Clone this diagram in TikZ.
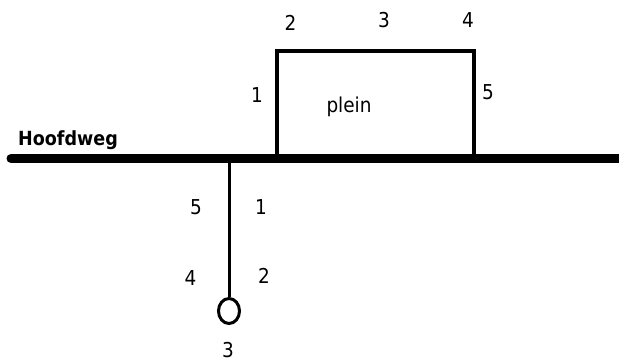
\documentclass[tikz,border=0pt]{standalone}
\usepackage{fontspec}
\setmainfont{DejaVu Sans Condensed}
\usetikzlibrary{shapes.geometric}
\begin{document}
\begin{tikzpicture}[x=1pt,y=-1pt,
  lbl/.style={inner sep=0pt,font=\fontsize{20.5}{23}\selectfont},
  road/.style={line width=9pt,line cap=round},
  side/.style={line width=3pt},
  square/.style={line width=4pt}]
\useasboundingbox (0,0) rectangle (619,361);
% main road
\coordinate (rl) at (11,158.5);
\coordinate (rr) at (630,158.5);
% plein
\coordinate (p1) at (276.5,158.5);
\coordinate (p2) at (276.5,51);
\coordinate (p3) at (474,51);
\coordinate (p4) at (474,158.5);
\draw[square] (p1) -- (p2) -- (p3) -- (p4);
\draw[road] (rl) -- (rr);
% side road
\coordinate (sj) at (229,158.5);
\node[ellipse,draw,side,minimum width=21pt,minimum height=25pt,inner sep=0pt] (end) at (229,311) {};
\draw[side] (sj) -- (end.north);
% texts
\node[inner sep=0pt,font=\fontsize{19.5}{22}\selectfont\bfseries,anchor=base west] (hw) at (18,145) {Hoofdweg};
\node[lbl,anchor=base] (pl) at (349,113) {plein};
\node[lbl] (a2) at (290.5,23) {2};
\node[lbl] (a3) at (384,20) {3};
\node[lbl] (a4) at (468,20.5) {4};
\node[lbl] (a1) at (257,95) {1};
\node[lbl] (a5) at (488,92) {5};
\node[lbl] (b5) at (196,207) {5};
\node[lbl] (b1) at (261,207) {1};
\node[lbl] (b4) at (190.5,278) {4};
\node[lbl] (b2) at (264,275.5) {2};
\node[lbl] (b3) at (228,350.5) {3};
\end{tikzpicture}
\end{document}
